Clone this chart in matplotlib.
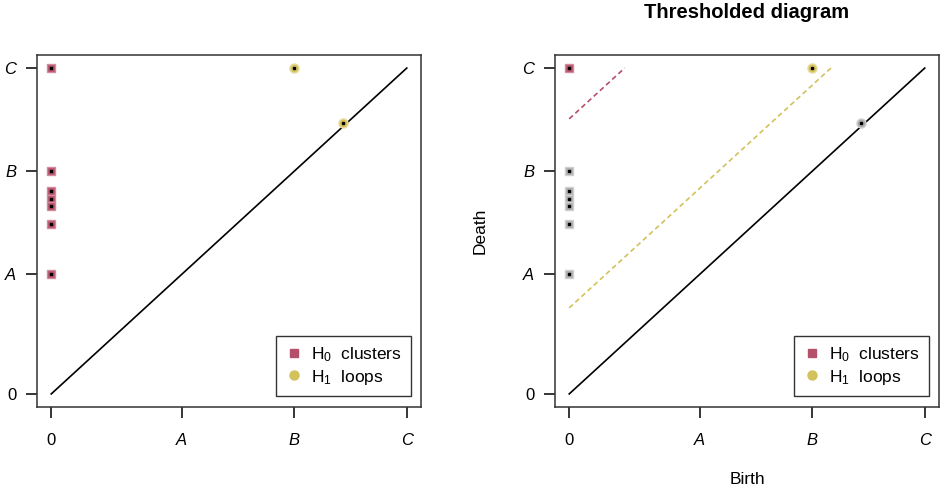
import numpy as np
import matplotlib.pyplot as plt
from matplotlib.lines import Line2D

plt.rcParams['font.family'] = ['Liberation Sans', 'DejaVu Sans']
plt.rcParams['mathtext.fontset'] = 'custom'
plt.rcParams['mathtext.rm'] = 'Liberation Sans'
plt.rcParams['mathtext.it'] = 'Liberation Sans:italic'

# axis scale (C taken as 1)
tick_pos = [0.0, 0.367, 0.683, 1.0]
tick_lab = ['0', 'A', 'B', 'C']

# H0 points (birth, death)
h0_birth = [0.0, 0.0, 0.0, 0.0, 0.0, 0.0, 0.0]
h0_death = [1.0, 0.684, 0.624, 0.597, 0.577, 0.521, 0.368]

# H1 points (birth, death)
h1_birth = [0.683, 0.820]
h1_death = [1.0, 0.832]

# persistence thresholds used in the right panel
thr_h0 = 0.844
thr_h1 = 0.264

RED_FC, RED_EC = '#b4506a', '#d48a9d'
YEL_FC, YEL_EC = '#d3c15c', '#e6db9c'
GRY_FC, GRY_EC = '#ababab', '#cfcfcf'


def draw_points(ax, bx, dy, marker, fc, ec, ms):
    ax.plot(bx, dy, ls='none', marker=marker, ms=ms, mfc=fc, mec=ec, mew=1.0, zorder=3)
    ax.plot(bx, dy, ls='none', marker='s', ms=1.5, color='black', zorder=4)


def setup(ax):
    ax.set_xlim(-0.04, 1.04)
    ax.set_ylim(-0.04, 1.04)
    ax.plot([0, 1], [0, 1], color='black', lw=1.2, zorder=2)
    ax.set_xticks(tick_pos)
    ax.set_yticks(tick_pos)
    xl = ax.set_xticklabels(tick_lab)
    yl = ax.set_yticklabels(tick_lab)
    for t in xl[1:] + yl[1:]:
        t.set_style('italic')
    ax.tick_params(direction='out', length=8, width=1.1, labelsize=12, pad=11)
    ax.tick_params(axis='y', pad=7)
    for s in ax.spines.values():
        s.set_linewidth(1.1)
        s.set_color('#333333')
    handles = [
        Line2D([], [], ls='none', marker='s', ms=6, mfc=RED_FC, mec=RED_FC),
        Line2D([], [], ls='none', marker='o', ms=6.5, mfc=YEL_FC, mec=YEL_FC),
    ]
    leg = ax.legend(handles, [r'H$_0$  clusters', r'H$_1$  loops'], loc='lower right',
                    bbox_to_anchor=(0.974, 0.031), borderaxespad=0, fancybox=False,
                    edgecolor='black', fontsize=12.5, handlelength=1.0, handletextpad=0.45,
                    labelspacing=0.2, borderpad=0.55)
    leg.get_frame().set_linewidth(1.0)


fig = plt.figure(figsize=(9.44, 4.92), dpi=100)
ax1 = fig.add_axes([0.0392, 0.1728, 0.4068, 0.7154])
ax2 = fig.add_axes([0.5879, 0.1728, 0.4068, 0.7154])

# left: full diagram
setup(ax1)
draw_points(ax1, h0_birth, h0_death, 's', RED_FC, RED_EC, 6)
draw_points(ax1, h1_birth, h1_death, 'o', YEL_FC, YEL_EC, 6.5)

# right: thresholded diagram
setup(ax2)
h0_b = np.array(h0_birth)
h0_d = np.array(h0_death)
h1_b = np.array(h1_birth)
h1_d = np.array(h1_death)
keep0 = (h0_d - h0_b) > thr_h0
keep1 = (h1_d - h1_b) > thr_h1
draw_points(ax2, h0_b[~keep0], h0_d[~keep0], 's', GRY_FC, GRY_EC, 6)
draw_points(ax2, h1_b[~keep1], h1_d[~keep1], 'o', GRY_FC, GRY_EC, 6.5)
draw_points(ax2, h0_b[keep0], h0_d[keep0], 's', RED_FC, RED_EC, 6)
draw_points(ax2, h1_b[keep1], h1_d[keep1], 'o', YEL_FC, YEL_EC, 6.5)

ax2.plot([0, 1 - thr_h0], [thr_h0, 1], color=RED_FC, lw=1.2, ls=(0, (3, 2)), zorder=2)
ax2.plot([0, 1 - thr_h1], [thr_h1, 1], color=YEL_FC, lw=1.2, ls=(0, (3, 2)), zorder=2)

fig.text(747 / 944, 1 - 13 / 492, 'Thresholded diagram', ha='center', va='center',
         fontsize=14.5, fontweight='bold')
fig.text(480 / 944, 1 - 231 / 492, 'Death', ha='center', va='center', rotation=90, fontsize=12.5)
fig.text(747 / 944, 1 - 480 / 492, 'Birth', ha='center', va='center', fontsize=12.5)

fig.savefig('out.png', dpi=100)
